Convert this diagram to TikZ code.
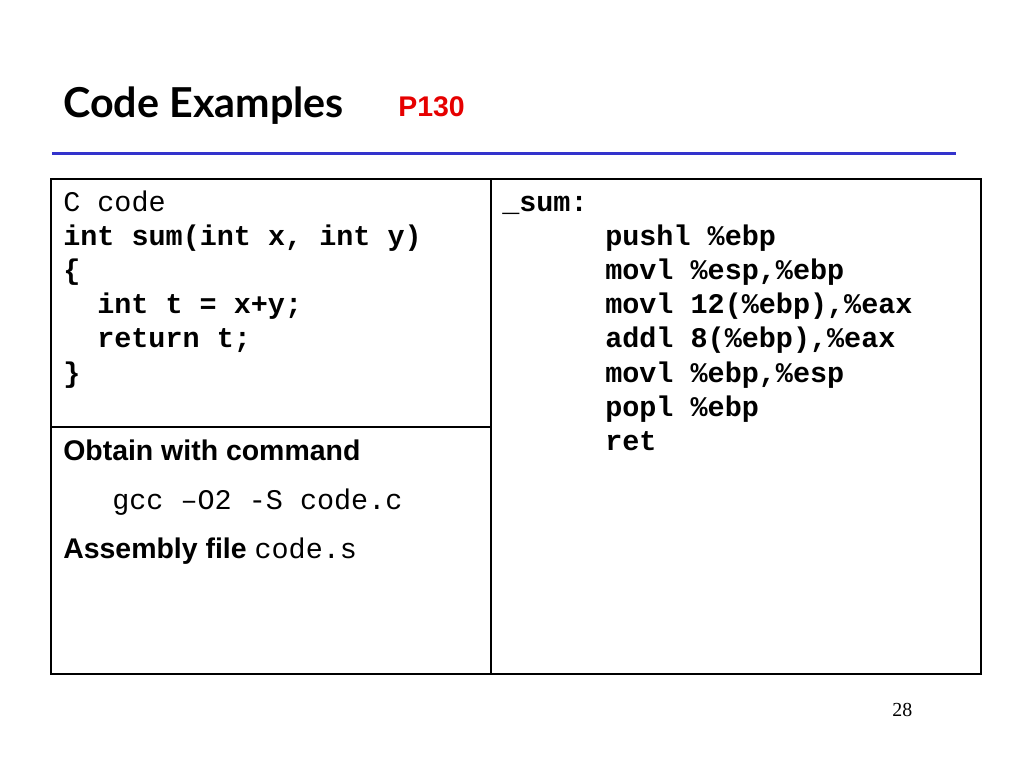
\documentclass[tikz,border=0pt]{standalone}
\usepackage{fontspec}
\setmainfont{Liberation Sans}
\setmonofont{Liberation Mono}
\newfontfamily\titlefont{Lato}
\newfontfamily\numfont{Liberation Serif}
\usetikzlibrary{positioning}
\definecolor{rulecolor}{RGB}{51,51,204}
\definecolor{pagered}{RGB}{230,0,0}

\begin{document}
\begin{tikzpicture}[x=0.703125pt,y=-0.703125pt,
  every node/.style={anchor=base west, inner sep=0pt},
  code/.style={font=\fontsize{20}{24}\selectfont\ttfamily\bfseries},
  plain/.style={font=\fontsize{20}{24}\selectfont\ttfamily},
  label/.style={font=\fontsize{20}{24}\selectfont\bfseries}]
\useasboundingbox (0,0) rectangle (1024,768);
% titulo
\node [font=\fontsize{29}{34}\selectfont\titlefont\bfseries] (title) at (63,118) {Code Examples};
\node [font=\fontsize{20}{24}\selectfont\bfseries, text=pagered] (page) at (398,117) {P130};
\draw [rulecolor, line width=2.5pt] (52,153.5) -- (956,153.5);
% tabela
\draw [line width=1.75pt] (51,179) rectangle (981,674);
\draw [line width=0.75pt] (491,179) -- (491,674);
\draw [line width=0.75pt] (51,427) -- (491,427);
% codigo C
\node [plain] (chead) at (63,212) {C code};
\node [code] (c1) at (63,246) {int sum(int x, int y)};
\node [code] (c2) at (63,280) {\{};
\node [code] (c3) at (97,314) {int t = x+y;};
\node [code] (c4) at (97,348) {return t;};
\node [code] (c5) at (63,382) {\}};
% comando
\node [label] (obtain) at (63,460) {Obtain with command};
\node [plain] (gcc) at (112,509) {gcc –O2 -S code.c};
\node [label] (asmfile) at (63,558) {Assembly file \ttfamily\mdseries code.s};
% assembly
\node [code] (lbl) at (502,212) {\_sum:};
\node [code] (a1) at (605,246) {pushl \%ebp};
\node [code] (a2) at (605,280) {movl \%esp,\%ebp};
\node [code] (a3) at (605,314) {movl 12(\%ebp),\%eax};
\node [code] (a4) at (605,348) {addl 8(\%ebp),\%eax};
\node [code] (a5) at (605,382) {movl \%ebp,\%esp};
\node [code] (a6) at (605,416) {popl \%ebp};
\node [code] (a7) at (605,450) {ret};
\node [font=\fontsize{14}{17}\selectfont\numfont] (num) at (892,716) {28};
\end{tikzpicture}
\end{document}
